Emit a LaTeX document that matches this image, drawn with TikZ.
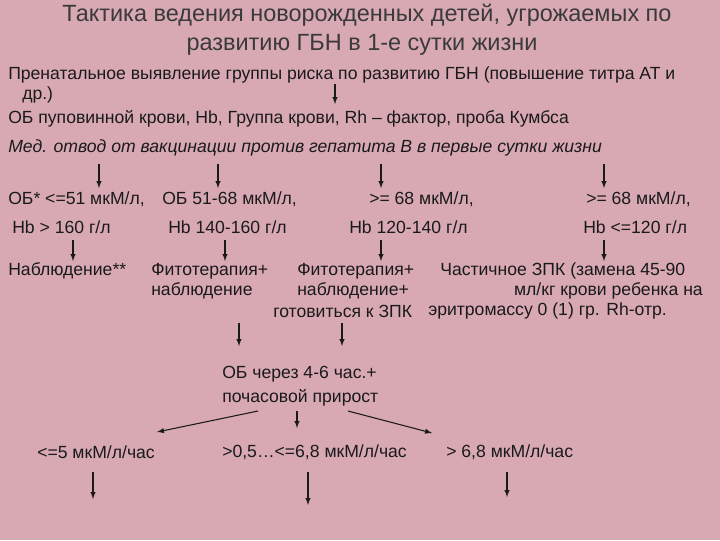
\documentclass[tikz,border=0pt]{standalone}
\usepackage{fontspec}
\setmainfont{Liberation Sans}
\definecolor{bg}{HTML}{D8A9B3}
\definecolor{ink}{HTML}{1A1A1A}
\definecolor{tink}{HTML}{3A3A3A}
\begin{document}
\begin{tikzpicture}[x=0.75pt,y=-0.75pt,
  txt/.style={font=\fontsize{13.2}{15}\selectfont,text=ink,inner sep=0pt},
  ttl/.style={font=\fontsize{17.6}{20}\selectfont,text=tink,inner sep=0pt},
  arr/.style={draw=ink,line width=0.8pt,-latex}]
\fill[bg] (0,0) rectangle (720,540);
\useasboundingbox (0,0) rectangle (720,540);
\node[ttl] (t1) at (367,15) {Тактика ведения новорожденных детей, угрожаемых по};
\node[ttl] (t2) at (362,45) {развитию ГБН в 1-е сутки жизни};
\node[txt,anchor=west] (p1) at (8,75) {Пренатальное выявление группы риска по развитию ГБН (повышение титра АТ и};
\node[txt,anchor=west] (p2) at (22,95) {др.)};
\node[txt,anchor=west] (p3) at (8,119) {ОБ пуповинной крови, Hb, Группа крови, Rh -- фактор, проба Кумбса};
\node[txt,anchor=west,font=\fontsize{13.2}{15}\selectfont\itshape] (p4) at (8,148) {Мед. отвод от вакцинации против гепатита В в первые сутки жизни};
\coordinate (a0) at (335,84); \coordinate (b0) at (335,104);
\draw[arr] (a0) -- (b0);
\node[txt,anchor=west] (r1a) at (8,199) {ОБ* <=51 мкМ/л,};
\node[txt,anchor=west] (r1b) at (12,227) {Hb > 160 г/л};
\node[txt,anchor=west] (r2a) at (162,199) {ОБ 51-68 мкМ/л,};
\node[txt,anchor=west] (r2b) at (168,227) {Hb 140-160 г/л};
\node[txt,anchor=west] (r3a) at (369,199) {>= 68 мкМ/л,};
\node[txt,anchor=west] (r3b) at (349,227) {Hb 120-140 г/л};
\node[txt,anchor=west] (r4a) at (586,199) {>= 68 мкМ/л,};
\node[txt,anchor=west] (r4b) at (583,227) {Hb <=120 г/л};
\foreach \x/\n in {99/1,218/2,381/3,604/4}{
  \coordinate (u\n) at (\x,164); \coordinate (v\n) at (\x,188);
  \draw[arr] (u\n) -- (v\n);}
\foreach \x/\n in {73/1,225/2,381/3,604/4}{
  \coordinate (w\n) at (\x,240); \coordinate (z\n) at (\x,261);
  \draw[arr] (w\n) -- (z\n);}
\node[txt,anchor=west] (s1) at (8,271) {Наблюдение**};
\node[txt,anchor=west] (s2a) at (151,271) {Фитотерапия+};
\node[txt,anchor=west] (s2b) at (151,291) {наблюдение};
\node[txt,anchor=west] (s3a) at (297,271) {Фитотерапия+};
\node[txt,anchor=west] (s3b) at (297,291) {наблюдение+};
\node[txt,anchor=west] (s3c) at (273,311) {готовиться к ЗПК};
\node[txt,anchor=west] (s4a) at (440,271) {Частичное ЗПК (замена 45-90};
\node[txt,anchor=east] (s4b) at (703,291) {мл/кг крови ребенка на};
\node[txt,anchor=west] (s4c) at (428,311) {эритромассу 0 (1) гр. Rh-отр.};
\coordinate (c1) at (239,323); \coordinate (d1) at (239,346);
\coordinate (c2) at (342,323); \coordinate (d2) at (342,346);
\draw[arr] (c1) -- (d1); \draw[arr] (c2) -- (d2);
\node[txt,anchor=west] (q1) at (222,374) {ОБ через 4-6 час.+};
\node[txt,anchor=west] (q2) at (222,398) {почасовой прирост};
\coordinate (e1) at (258,411); \coordinate (f1) at (157,432);
\coordinate (e2) at (297,411); \coordinate (f2) at (297,428);
\coordinate (e3) at (348,411); \coordinate (f3) at (432,433);
\draw[arr] (e1) -- (f1); \draw[arr] (e2) -- (f2); \draw[arr] (e3) -- (f3);
\node[txt,anchor=west] (g1) at (37,452) {<=5 мкМ/л/час};
\node[txt,anchor=west] (g2) at (222,452) {>0,5…<=6,8 мкМ/л/час};
\node[txt,anchor=west] (g3) at (446,452) {> 6,8 мкМ/л/час};
\coordinate (h1) at (93,472); \coordinate (k1) at (93,499);
\coordinate (h2) at (308,472); \coordinate (k2) at (308,505);
\coordinate (h3) at (507,472); \coordinate (k3) at (507,497);
\draw[arr] (h1) -- (k1); \draw[arr] (h2) -- (k2); \draw[arr] (h3) -- (k3);
\end{tikzpicture}
\end{document}
